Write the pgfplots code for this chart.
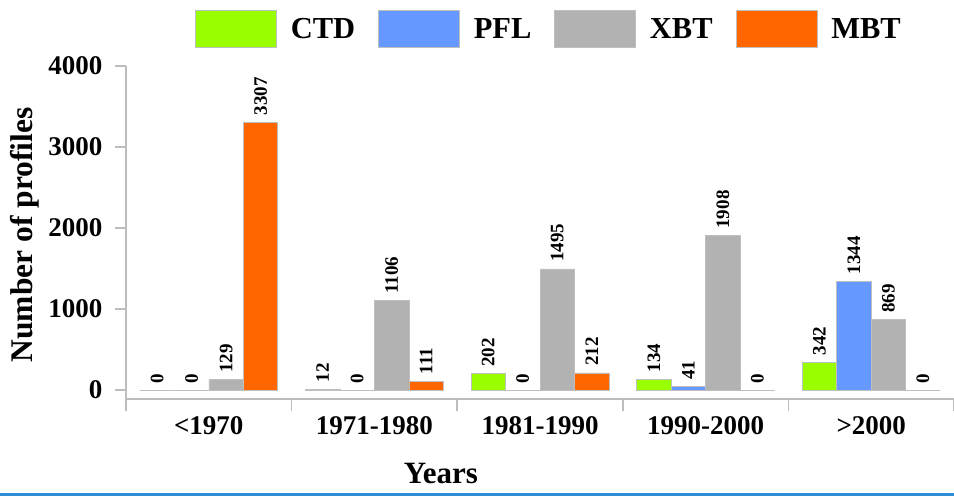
\documentclass[border=0pt]{standalone}
\usepackage{pgfplots}
\pgfplotsset{compat=1.18}
\usepackage{fontspec}
\setmainfont{Liberation Serif}
\definecolor{cCTD}{HTML}{99FF00}
\definecolor{cPFL}{HTML}{6699FF}
\definecolor{cXBT}{HTML}{B2B2B2}
\definecolor{cMBT}{HTML}{FF6600}
\definecolor{axgray}{HTML}{BDBDBD}
\definecolor{rulecol}{HTML}{2E8FD6}
\begin{document}
\begin{tikzpicture}
\begin{axis}[
  scale only axis, width=828pt, height=333pt,
  xmin=-0.5, xmax=4.5, ymin=-110, ymax=4000,
  axis x line*=bottom, axis y line*=left,
  axis line style={axgray, line width=1.6pt},
  every tick/.style={axgray, line width=1.6pt},
  tick align=outside,
  xtick={0,1,2,3,4},
  xticklabels={{<1970},{1971-1980},{1981-1990},{1990-2000},{>2000}},
  major x tick style={draw=none},
  minor xtick={-0.5,0.5,1.5,2.5,3.5,4.5},
  minor tick length=12pt,
  ytick={0,1000,2000,3000,4000},
  major tick length=11pt,
  /pgf/number format/.cd, 1000 sep={}, assume math mode=true, /pgfplots/.cd,
  ticklabel style={font=\bfseries\fontsize{27}{27}\selectfont},
  xticklabel style={yshift=-3pt},
  yticklabel style={xshift=-9pt},
  ylabel={Number of profiles},
  ylabel style={font=\bfseries\fontsize{31.5}{31.5}\selectfont, at={(axis description cs:-0.122,0.4925)}, anchor=center},
  xlabel={Years},
  xlabel style={font=\bfseries\fontsize{31}{31}\selectfont, at={(axis description cs:0.3804,-0.225)}, anchor=center},
  clip=false,
  ybar, bar width=0.2083,
  nodes near coords,
  every node near coord/.append style={rotate=90, anchor=west, inner sep=1pt, outer sep=6pt, font=\bfseries\fontsize{19}{19}\selectfont, black},
  legend columns=4,
  legend image code/.code={\fill[#1] (0pt,-18.5pt) rectangle (81pt,18.5pt);},
  legend style={draw=none, fill=none, anchor=north west, at={(axis description cs:0.0833,1.168)}, inner sep=0pt,
    font=\bfseries\fontsize{30.5}{30.5}\selectfont,
    nodes={inner sep=0pt},
    /tikz/every odd column/.append style={column sep=14pt},
    /tikz/every even column/.append style={column sep=23pt}},
]
\addplot[fill=cCTD, draw=black!25, line width=0.6pt, bar shift=-0.3125] coordinates {(0,0) (1,12) (2,202) (3,134) (4,342)};
\addplot[fill=cPFL, draw=black!25, line width=0.6pt, bar shift=-0.1042] coordinates {(0,0) (1,0) (2,0) (3,41) (4,1344)};
\addplot[fill=cXBT, draw=black!25, line width=0.6pt, bar shift=0.1042] coordinates {(0,129) (1,1106) (2,1495) (3,1908) (4,869)};
\addplot[fill=cMBT, draw=black!25, line width=0.6pt, bar shift=0.3125] coordinates {(0,3307) (1,111) (2,212) (3,0) (4,0)};
\legend{CTD,PFL,XBT,MBT}
\draw[rulecol, line width=3pt] (rel axis cs:-0.1522,-0.2868) -- (rel axis cs:1,-0.2868);
\coordinate (BL) at (rel axis cs:-0.15217,-0.2913);
\coordinate (TR) at (rel axis cs:1,1.1982);
\end{axis}
\pgfresetboundingbox
\path (BL) rectangle (TR);
\end{tikzpicture}
\end{document}
